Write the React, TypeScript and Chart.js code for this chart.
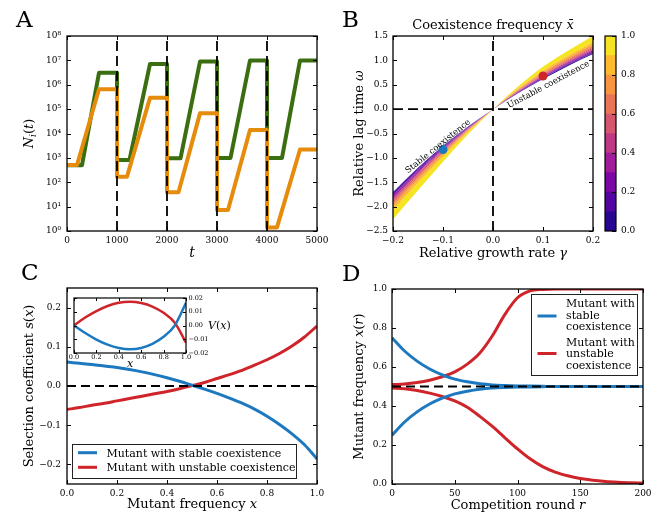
import React, { useEffect, useRef } from "react";
import { Chart, registerables } from "chart.js";

Chart.register(...registerables);

const W = 662;
const H = 515;
const SERIF = "'DejaVu Serif', 'Liberation Serif', serif";

const BLUE = "#1c79c0";
const RED = "#cf2429";
const GREEN = "#3a6e10";
const ORANGE = "#e68c0c";

// ---------------- Panel A: population sizes ----------------
const aGreenT = [0, 300, 640, 1000, 1000, 1250, 1660, 2000, 2000, 2270, 2660, 3000, 3000, 3270, 3660, 4000, 4000, 4300, 4660, 5000];
const aGreenN = [500, 500, 3.1e6, 3.1e6, 820, 820, 7.1e6, 7.1e6, 960, 960, 8.9e6, 8.9e6, 1000, 1000, 1e7, 1e7, 1000, 1000, 1e7, 1e7];
const aOrangeT = [0, 200, 640, 1000, 1000, 1200, 1660, 2000, 2000, 2230, 2660, 3000, 3000, 3220, 3660, 4000, 4000, 4200, 4660, 5000];
const aOrangeN = [510, 510, 6.5e5, 6.5e5, 170, 170, 2.9e5, 2.9e5, 39, 39, 6.7e4, 6.7e4, 7.3, 7.3, 1.4e4, 1.4e4, 1.4, 1.4, 2.2e3, 2.2e3];
const aDilutionT = [1000, 2000, 3000, 4000];
const aXTicks = [0, 1000, 2000, 3000, 4000, 5000];
const aYTicks = [1, 10, 100, 1e3, 1e4, 1e5, 1e6, 1e7, 1e8];

// ---------------- Panel B: coexistence frequency ----------------
const bGamma = [-0.2, -0.15, -0.1, -0.05, 0, 0.05, 0.1, 0.15, 0.2];
const bOmega00 = [-1.700, -1.200, -0.755, -0.358, 0, 0.324, 0.618, 0.887, 1.130];
const bOmega01 = [-1.728, -1.223, -0.771, -0.366, 0, 0.331, 0.631, 0.903, 1.149];
const bOmega02 = [-1.756, -1.247, -0.788, -0.374, 0, 0.338, 0.643, 0.918, 1.167];
const bOmega03 = [-1.790, -1.274, -0.807, -0.383, 0, 0.347, 0.658, 0.937, 1.189];
const bOmega04 = [-1.823, -1.302, -0.827, -0.393, 0, 0.355, 0.673, 0.956, 1.211];
const bOmega05 = [-1.857, -1.330, -0.846, -0.402, 0, 0.363, 0.689, 0.975, 1.234];
const bOmega06 = [-1.896, -1.363, -0.869, -0.413, 0, 0.373, 0.706, 0.997, 1.260];
const bOmega07 = [-1.941, -1.400, -0.895, -0.426, 0, 0.385, 0.726, 1.022, 1.289];
const bOmega08 = [-1.997, -1.446, -0.927, -0.441, 0, 0.399, 0.752, 1.053, 1.326];
const bOmega09 = [-2.070, -1.507, -0.970, -0.462, 0, 0.417, 0.784, 1.094, 1.374];
const bOmega10 = [-2.260, -1.665, -1.080, -0.515, 0, 0.465, 0.870, 1.200, 1.500];
const bBoundaries = [bOmega00, bOmega01, bOmega02, bOmega03, bOmega04, bOmega05, bOmega06, bOmega07, bOmega08, bOmega09, bOmega10];
const bLevels = [0, 0.1, 0.2, 0.3, 0.4, 0.5, 0.6, 0.7, 0.8, 0.9, 1.0];
const bBandColors = ["#270692", "#5502a3", "#7c06a6", "#a01c9a", "#be3884", "#d6566d", "#e97456", "#f79540", "#fcba2e", "#f6e423"];
const bStablePoint = [-0.1, -0.83];
const bUnstablePoint = [0.1, 0.68];
const bXTicks = [-0.2, -0.1, 0, 0.1, 0.2];
const bYTicks = [-2.5, -2, -1.5, -1, -0.5, 0, 0.5, 1, 1.5];
const cbTicks = [0, 0.2, 0.4, 0.6, 0.8, 1.0];

// ---------------- Panel C: selection coefficient ----------------
const cX = [0, 0.05, 0.1, 0.15, 0.2, 0.25, 0.3, 0.35, 0.4, 0.45, 0.5, 0.55, 0.6, 0.65, 0.7, 0.75, 0.8, 0.85, 0.9, 0.95, 1.0];
const cStable = [0.061, 0.058, 0.055, 0.051, 0.047, 0.042, 0.036, 0.029, 0.021, 0.012, 0.002, -0.008, -0.019, -0.031, -0.044, -0.059, -0.077, -0.098, -0.122, -0.150, -0.186];
const cUnstable = [-0.060, -0.055, -0.049, -0.044, -0.038, -0.032, -0.026, -0.020, -0.014, -0.007, 0.001, 0.009, 0.019, 0.029, 0.040, 0.053, 0.067, 0.083, 0.102, 0.125, 0.153];
const cXTicks = [0, 0.2, 0.4, 0.6, 0.8, 1.0];
const cYTicks = [-0.2, -0.1, 0, 0.1, 0.2];
const iX = [0, 0.1, 0.2, 0.3, 0.4, 0.5, 0.6, 0.7, 0.8, 0.9, 1.0];
const iStable = [0, -0.0055, -0.0102, -0.0139, -0.0163, -0.0172, -0.0163, -0.0133, -0.0082, 0.0, 0.0165];
const iUnstable = [0, 0.0058, 0.0105, 0.0142, 0.0165, 0.0172, 0.0163, 0.0138, 0.0092, 0.0020, -0.0125];
const iXTicks = [0, 0.2, 0.4, 0.6, 0.8, 1.0];
const iYTicks = [-0.02, -0.01, 0, 0.01, 0.02];

// ---------------- Panel D: frequency trajectories ----------------
const dR = [0, 10, 20, 30, 40, 50, 60, 70, 80, 90, 100, 110, 120, 130, 140, 150, 160, 170, 180, 190, 200];
const dStableHigh = [0.75, 0.682, 0.63, 0.59, 0.56, 0.538, 0.524, 0.514, 0.508, 0.505, 0.503, 0.502, 0.501, 0.5, 0.5, 0.5, 0.5, 0.5, 0.5, 0.5, 0.5];
const dStableLow = [0.25, 0.318, 0.37, 0.41, 0.44, 0.462, 0.476, 0.486, 0.492, 0.495, 0.497, 0.498, 0.499, 0.5, 0.5, 0.5, 0.5, 0.5, 0.5, 0.5, 0.5];
const dUnstableHigh = [0.51, 0.513, 0.52, 0.532, 0.55, 0.575, 0.615, 0.672, 0.76, 0.87, 0.955, 0.99, 0.998, 1, 1, 1, 1, 1, 1, 1, 1];
const dUnstableLow = [0.492, 0.488, 0.479, 0.466, 0.449, 0.426, 0.394, 0.347, 0.295, 0.237, 0.18, 0.129, 0.089, 0.061, 0.042, 0.028, 0.019, 0.013, 0.009, 0.006, 0.005];
const dXTicks = [0, 50, 100, 150, 200];
const dYTicks = [0, 0.2, 0.4, 0.6, 0.8, 1.0];

// ---------------- layout (plot areas) ----------------
type Area = [number, number, number, number];
const AREA_A: Area = [67, 36, 317, 231];
const AREA_B: Area = [393, 36, 593, 231];
const AREA_CB: Area = [605, 36, 616, 231];
const AREA_C: Area = [67, 288, 317, 484];
const AREA_IN: Area = [74, 298, 186, 353];
const AREA_D: Area = [392, 289, 643, 484];

function pad(area: Area, yw: number, xh: number, yRight = false) {
  const [L, T, R, B] = area;
  return yRight
    ? { left: L, top: T, right: W - R - yw, bottom: H - B - xh }
    : { left: L - yw, top: T, right: W - R, bottom: H - B - xh };
}

const minus = (s: string) => s.replace("-", "\u2212");
const fmtN = (d: number) => (v: number) => minus((Math.abs(v) < 1e-9 ? 0 : v).toFixed(d));
const SUP = ["\u2070", "\u00b9", "\u00b2", "\u00b3", "\u2074", "\u2075", "\u2076", "\u2077", "\u2078"];
const fmtPow = (v: number) => "10" + SUP[Math.round(Math.log10(v))];

function scale(o: { type?: string; min: number; max: number; ticks: number[]; fmt: (v: number) => string; size: number; pad: number; pos: "bottom" | "left" | "right"; thick: number }) {
  const horiz = o.pos === "bottom";
  return {
    type: o.type ?? "linear",
    position: o.pos,
    min: o.min,
    max: o.max,
    grid: { display: false, drawTicks: false },
    border: { display: false },
    ticks: {
      autoSkip: false,
      maxRotation: 0,
      minRotation: 0,
      padding: o.pad,
      color: "#000",
      font: { family: SERIF, size: o.size },
      callback: (v: any) => o.fmt(Number(v)),
    },
    afterBuildTicks: (s: any) => {
      s.ticks = o.ticks.map((v) => ({ value: v }));
    },
    afterFit: (s: any) => {
      if (horiz) s.height = o.thick;
      else s.width = o.thick;
    },
  };
}

function baseOptions(area: Area, yw: number, xh: number, yRight: boolean, scales: any) {
  return {
    responsive: false,
    animation: false,
    devicePixelRatio: 1,
    events: [],
    layout: { padding: pad(area, yw, xh, yRight) },
    plugins: { legend: { display: false }, tooltip: { enabled: false } },
    scales,
  };
}

function series(xs: number[], ys: number[], color: string, lw: number, smooth = false, extra: any = {}) {
  return {
    data: xs.map((x, i) => ({ x, y: ys[i] })),
    borderColor: color,
    backgroundColor: color,
    borderWidth: lw,
    pointRadius: 0,
    fill: false,
    clip: 0,
    borderJoinStyle: "round",
    cubicInterpolationMode: smooth ? "monotone" : "default",
    ...extra,
  };
}

function dashed(p0: [number, number], p1: [number, number], dash: number[] = [9, 5]) {
  return {
    data: [{ x: p0[0], y: p0[1] }, { x: p1[0], y: p1[1] }],
    borderColor: "#000",
    borderWidth: 1.8,
    borderDash: dash,
    pointRadius: 0,
    fill: false,
    clip: 0,
  };
}

// ---------------- text + decoration plugin ----------------
type Seg = { t: string; it?: boolean; sub?: boolean };
type TextItem = { segs: Seg[]; x: number; y: number; size: number; align?: "left" | "center" | "right"; rot?: number; data?: boolean };
type LegendItem = { color: string; y: number; lines: [string, number][] };
type LegendCfg = { box: Area; items: LegendItem[]; sample: [number, number]; textX: number; size: number; lw: number };
type DecoCfg = { tickLen: number; xTicks?: boolean; yLeft?: boolean; yRight?: boolean; frame?: number; bg?: boolean; texts?: TextItem[]; legend?: LegendCfg };

const S = (t: string, it = false, sub = false): Seg => ({ t, it, sub });

function segFont(s: Seg, size: number) {
  const sz = s.sub ? size * 0.7 : size;
  return `${s.it ? "italic " : ""}${sz}px ${SERIF}`;
}

function drawRich(ctx: CanvasRenderingContext2D, chart: any, item: TextItem) {
  let x = item.x;
  let y = item.y;
  if (item.data) {
    x = chart.scales.x.getPixelForValue(item.x);
    y = chart.scales.y.getPixelForValue(item.y);
  }
  ctx.save();
  ctx.translate(x, y);
  if (item.rot) ctx.rotate((item.rot * Math.PI) / 180);
  const widths = item.segs.map((s) => {
    ctx.font = segFont(s, item.size);
    return ctx.measureText(s.t).width;
  });
  const total = widths.reduce((a, b) => a + b, 0);
  let cx = item.align === "left" ? 0 : item.align === "right" ? -total : -total / 2;
  ctx.fillStyle = "#000";
  ctx.textAlign = "left";
  ctx.textBaseline = "alphabetic";
  const base = item.size * 0.36;
  item.segs.forEach((s, i) => {
    ctx.font = segFont(s, item.size);
    ctx.fillText(s.t, cx, base + (s.sub ? item.size * 0.25 : 0));
    cx += widths[i];
  });
  ctx.restore();
}

function deco(cfg: DecoCfg) {
  return {
    id: "deco",
    beforeDraw(chart: any) {
      if (!cfg.bg) return;
      const { left, top, right, bottom } = chart.chartArea;
      const ctx = chart.ctx;
      ctx.save();
      ctx.fillStyle = "#fff";
      ctx.fillRect(left, top, right - left, bottom - top);
      ctx.restore();
    },
    afterDraw(chart: any) {
      const ctx: CanvasRenderingContext2D = chart.ctx;
      const { left, top, right, bottom } = chart.chartArea;
      ctx.save();
      ctx.strokeStyle = "#000";
      ctx.lineWidth = 1;
      const tl = cfg.tickLen;
      const xs = chart.scales.x;
      const ys = chart.scales.y;
      ctx.beginPath();
      if (cfg.xTicks !== false) {
        for (const t of xs.ticks) {
          const p = Math.round(xs.getPixelForValue(t.value)) + 0.5;
          ctx.moveTo(p, bottom);
          ctx.lineTo(p, bottom - tl);
          ctx.moveTo(p, top);
          ctx.lineTo(p, top + tl);
        }
      }
      for (const t of ys.ticks) {
        const p = Math.round(ys.getPixelForValue(t.value)) + 0.5;
        if (cfg.yLeft !== false) {
          ctx.moveTo(left, p);
          ctx.lineTo(left + tl, p);
        }
        if (cfg.yRight !== false) {
          ctx.moveTo(right, p);
          ctx.lineTo(right - tl, p);
        }
      }
      ctx.stroke();
      ctx.lineWidth = cfg.frame ?? 1.3;
      ctx.strokeRect(left, top, right - left, bottom - top);

      const lg = cfg.legend;
      if (lg) {
        const [x0, y0, x1, y1] = lg.box;
        ctx.fillStyle = "#fff";
        ctx.fillRect(x0, y0, x1 - x0, y1 - y0);
        ctx.strokeStyle = "#222";
        ctx.lineWidth = 1;
        ctx.strokeRect(x0 + 0.5, y0 + 0.5, x1 - x0, y1 - y0);
        for (const it of lg.items) {
          ctx.strokeStyle = it.color;
          ctx.lineWidth = lg.lw;
          ctx.beginPath();
          ctx.moveTo(lg.sample[0], it.y);
          ctx.lineTo(lg.sample[1], it.y);
          ctx.stroke();
          for (const [txt, ty] of it.lines) {
            drawRich(ctx, chart, { segs: [S(txt)], x: lg.textX, y: ty, size: lg.size, align: "left" });
          }
        }
      }
      for (const t of cfg.texts ?? []) drawRich(ctx, chart, t);
      ctx.restore();
    },
  };
}

// ---------------- chart configs ----------------
function configA() {
  return {
    type: "line",
    data: {
      datasets: [
        ...aDilutionT.map((t) => dashed([t, aYTicks[0]], [t, aYTicks[aYTicks.length - 1]], [10, 5])),
        series(aOrangeT, aOrangeN, ORANGE, 4),
        series(aGreenT, aGreenN, GREEN, 4),
      ],
    },
    options: baseOptions(AREA_A, 50, 20, false, {
      x: scale({ min: 0, max: 5000, ticks: aXTicks, fmt: (v) => String(Math.round(v)), size: 9, pad: 4, pos: "bottom", thick: 20 }),
      y: scale({ type: "logarithmic", min: 1, max: 1e8, ticks: aYTicks, fmt: fmtPow, size: 9, pad: 6, pos: "left", thick: 50 }),
    }),
    plugins: [
      deco({
        tickLen: 4,
        texts: [
          { segs: [S("A")], x: 16, y: 18.5, size: 23, align: "left" },
          { segs: [S("N", true), S("i", true, true), S("("), S("t", true), S(")")], x: 28, y: 133.5, size: 13, rot: -90 },
          { segs: [S("t", true)], x: 192, y: 252, size: 14 },
        ],
      }),
    ],
  };
}

function configB() {
  const bands = bBoundaries.map((arr, k) => ({
    data: bGamma.map((g, i) => ({ x: g, y: arr[i] })),
    borderColor: "rgba(0,0,0,0)",
    borderWidth: 0,
    backgroundColor: k === 0 ? "rgba(0,0,0,0)" : bBandColors[k - 1],
    fill: k === 0 ? false : "-1",
    pointRadius: 0,
    cubicInterpolationMode: "monotone",
    clip: 0,
  }));
  const dot = (p: number[], c: string) => ({
    data: [{ x: p[0], y: p[1] }],
    showLine: false,
    pointRadius: 4.5,
    pointBackgroundColor: c,
    pointBorderWidth: 0,
    borderColor: c,
    clip: 0,
  });
  return {
    type: "line",
    data: {
      datasets: [
        dashed([0, bYTicks[0]], [0, bYTicks[bYTicks.length - 1]], [10, 5]),
        dashed([bXTicks[0], 0], [bXTicks[bXTicks.length - 1], 0], [10, 5]),
        dot(bStablePoint, BLUE),
        dot(bUnstablePoint, RED),
        ...bands,
      ],
    },
    options: baseOptions(AREA_B, 50, 20, false, {
      x: scale({ min: -0.2, max: 0.2, ticks: bXTicks, fmt: fmtN(1), size: 9, pad: 4, pos: "bottom", thick: 20 }),
      y: scale({ min: -2.5, max: 1.5, ticks: bYTicks, fmt: fmtN(1), size: 9, pad: 5, pos: "left", thick: 50 }),
    }),
    plugins: [
      deco({
        tickLen: 4,
        texts: [
          { segs: [S("B")], x: 342, y: 18.5, size: 23, align: "left" },
          { segs: [S("Coexistence frequency "), S("x\u0304", true)], x: 493, y: 24, size: 13 },
          { segs: [S("Relative lag time "), S("\u03c9", true)], x: 358, y: 133.5, size: 13, rot: -90 },
          { segs: [S("Relative growth rate "), S("\u03b3", true)], x: 493, y: 252, size: 13 },
          { segs: [S("Stable coexistence")], x: -0.111, y: -0.752, size: 8.5, rot: -39, data: true },
          { segs: [S("Unstable coexistence")], x: 0.11, y: 0.515, size: 8.5, rot: -28, data: true },
        ],
      }),
    ],
  };
}

function configCB() {
  return {
    type: "bar",
    data: {
      labels: ["x\u0304"],
      datasets: bBandColors.map((c, i) => ({
        data: [[bLevels[i], bLevels[i + 1]]],
        backgroundColor: c,
        borderWidth: 0,
        barPercentage: 1,
        categoryPercentage: 1,
        grouped: false,
      })),
    },
    options: baseOptions(AREA_CB, 40, 0, true, {
      x: { type: "category", display: false, grid: { display: false } },
      y: scale({ min: 0, max: 1, ticks: cbTicks, fmt: fmtN(1), size: 9, pad: 5, pos: "right", thick: 40 }),
    }),
    plugins: [deco({ tickLen: 4, xTicks: false, yLeft: false, frame: 1.2 })],
  };
}

function configC() {
  return {
    type: "line",
    data: {
      datasets: [
        dashed([cXTicks[0], 0], [cXTicks[cXTicks.length - 1], 0], [9, 5]),
        series(cX, cStable, BLUE, 3, true),
        series(cX, cUnstable, RED, 3, true),
      ],
    },
    options: baseOptions(AREA_C, 50, 20, false, {
      x: scale({ min: 0, max: 1, ticks: cXTicks, fmt: fmtN(1), size: 9, pad: 4, pos: "bottom", thick: 20 }),
      y: scale({ min: -0.25, max: 0.25, ticks: cYTicks, fmt: fmtN(1), size: 9, pad: 6, pos: "left", thick: 50 }),
    }),
    plugins: [
      deco({
        tickLen: 4,
        texts: [
          { segs: [S("C")], x: 21, y: 271.5, size: 23, align: "left" },
          { segs: [S("Selection coefficient "), S("s", true), S("("), S("x", true), S(")")], x: 28, y: 386, size: 13, rot: -90 },
          { segs: [S("Mutant frequency "), S("x", true)], x: 192, y: 503, size: 13 },
        ],
        legend: {
          box: [72, 444, 296, 478],
          sample: [78, 97],
          textX: 106.5,
          size: 11,
          lw: 3,
          items: [
            { color: BLUE, y: 452.7, lines: [["Mutant with stable coexistence", 452.7]] },
            { color: RED, y: 467.3, lines: [["Mutant with unstable coexistence", 467.3]] },
          ],
        },
      }),
    ],
  };
}

function configInset() {
  return {
    type: "line",
    data: {
      datasets: [series(iX, iStable, BLUE, 2.5, true), series(iX, iUnstable, RED, 2.5, true)],
    },
    options: baseOptions(AREA_IN, 28, 10, true, {
      x: scale({ min: 0, max: 1, ticks: iXTicks, fmt: fmtN(1), size: 6.5, pad: 0, pos: "bottom", thick: 10 }),
      y: scale({ min: -0.02, max: 0.02, ticks: iYTicks, fmt: fmtN(2), size: 6.5, pad: 2.5, pos: "right", thick: 28 }),
    }),
    plugins: [
      deco({
        tickLen: 3,
        bg: true,
        frame: 1.2,
        texts: [
          { segs: [S("V", true), S("("), S("x", true), S(")")], x: 208, y: 325.5, size: 11, align: "left" },
          { segs: [S("x", true)], x: 130, y: 363, size: 11 },
        ],
      }),
    ],
  };
}

function configD() {
  return {
    type: "line",
    data: {
      datasets: [
        dashed([dXTicks[0], 0.5], [dXTicks[dXTicks.length - 1], 0.5], [9, 5]),
        series(dR, dStableHigh, BLUE, 3, true),
        series(dR, dStableLow, BLUE, 3, true),
        series(dR, dUnstableHigh, RED, 3, true),
        series(dR, dUnstableLow, RED, 3, true),
      ],
    },
    options: baseOptions(AREA_D, 50, 20, false, {
      x: scale({ min: 0, max: 200, ticks: dXTicks, fmt: (v) => String(Math.round(v)), size: 9, pad: 4, pos: "bottom", thick: 20 }),
      y: scale({ min: 0, max: 1, ticks: dYTicks, fmt: fmtN(1), size: 9, pad: 5, pos: "left", thick: 50 }),
    }),
    plugins: [
      deco({
        tickLen: 4,
        texts: [
          { segs: [S("D")], x: 342, y: 272.5, size: 23, align: "left" },
          { segs: [S("Mutant frequency "), S("x", true), S("("), S("r", true), S(")")], x: 358, y: 386.5, size: 13, rot: -90 },
          { segs: [S("Competition round "), S("r", true)], x: 518, y: 504, size: 13 },
        ],
        legend: {
          box: [531, 294, 637, 375],
          sample: [537.5, 556.5],
          textX: 566,
          size: 11,
          lw: 3,
          items: [
            { color: BLUE, y: 316, lines: [["Mutant with", 303.5], ["stable", 315], ["coexistence", 326.5]] },
            { color: RED, y: 353.5, lines: [["Mutant with", 342], ["unstable", 353.5], ["coexistence", 365]] },
          ],
        },
      }),
    ],
  };
}

function ChartLayer({ make }: { make: () => any }) {
  const ref = useRef<HTMLCanvasElement>(null);
  useEffect(() => {
    const chart = new Chart(ref.current as HTMLCanvasElement, make());
    return () => chart.destroy();
  }, [make]);
  return <canvas ref={ref} width={W} height={H} style={{ position: "absolute", left: 0, top: 0, width: W, height: H }} />;
}

export default function App() {
  useEffect(() => {
    document.body.style.margin = "0";
  }, []);
  return (
    <div style={{ position: "relative", width: W, height: H, background: "#fff", overflow: "hidden" }}>
      <ChartLayer make={configA} />
      <ChartLayer make={configB} />
      <ChartLayer make={configCB} />
      <ChartLayer make={configC} />
      <ChartLayer make={configInset} />
      <ChartLayer make={configD} />
    </div>
  );
}
